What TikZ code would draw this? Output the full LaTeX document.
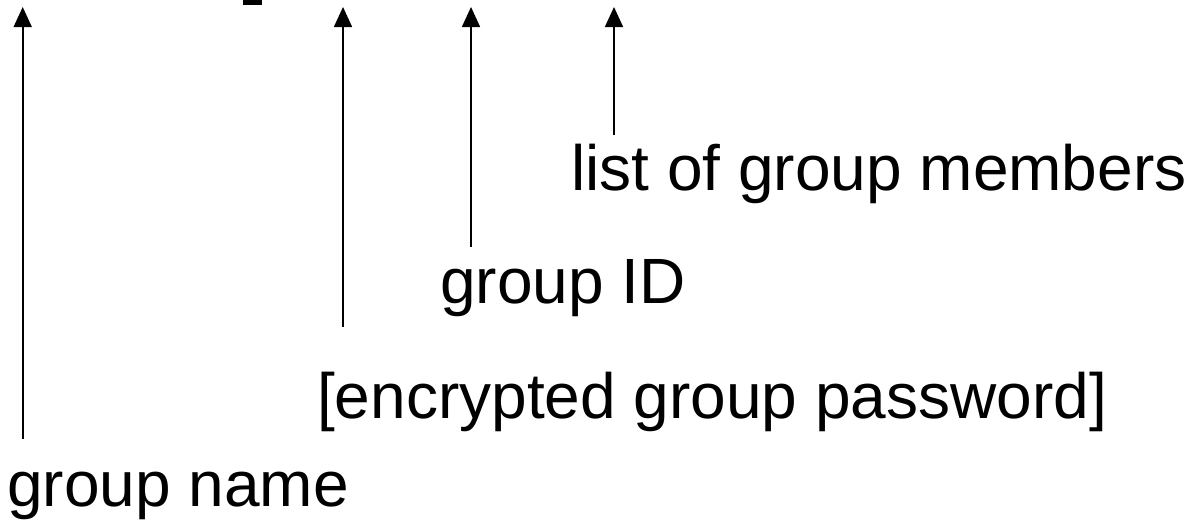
\documentclass[tikz,border=0pt]{standalone}
\usepackage{fontspec}
\setmainfont{Liberation Sans}
\usetikzlibrary{arrows.meta}
\begin{document}
\begin{tikzpicture}[x=1pt,y=-1pt,
  lbl/.style={anchor=base west,inner sep=0pt,font=\fontsize{64}{76}\selectfont},
  fieldarrow/.style={line width=1.6pt,-{Triangle[width=18pt,length=20pt]}}]
\useasboundingbox (0,0) rectangle (1187,522);
\fill (243,0) rectangle (262,5);
\node[lbl] (name) at (7,506) {group name};
\node[lbl] (pw) at (317,418) {[encrypted group password]};
\node[lbl] (gid) at (440,303) {group ID};
\node[lbl] (mem) at (571,190) {list of group members};
\coordinate (b1) at (22.7,439); \coordinate (t1) at (22.7,7);
\coordinate (b2) at (343,327); \coordinate (t2) at (343,7);
\coordinate (b3) at (471,247); \coordinate (t3) at (471,7);
\coordinate (b4) at (614,135); \coordinate (t4) at (614,7);
\draw[fieldarrow] (b1) -- (t1);
\draw[fieldarrow] (b2) -- (t2);
\draw[fieldarrow] (b3) -- (t3);
\draw[fieldarrow] (b4) -- (t4);
\end{tikzpicture}
\end{document}
